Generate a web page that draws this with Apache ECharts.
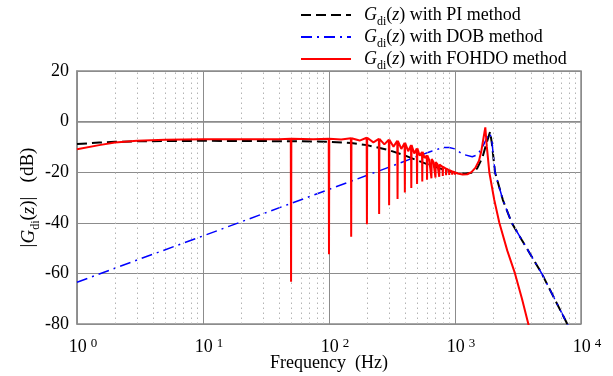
<!DOCTYPE html>
<html><head><meta charset="utf-8">
<script src="https://cdn.jsdelivr.net/npm/echarts@6/dist/echarts.min.js"></script>
<style>html,body{margin:0;padding:0;background:#fff}#c{width:613px;height:376px}</style>
</head><body><div id="c"></div>
<script>
// ---- data (frequency Hz, magnitude dB) ----
const piPoints = [[1,-8.9],[1.5,-8.3],[2,-8.0],[3,-7.8],[5,-7.7],[10,-7.6],[30,-7.7],[60,-7.8],[100,-8.0],[150,-8.5],[200,-9.3],[300,-11.3],[400,-13.4],[500,-15.3],[600,-16.8],[700,-17.9],[800,-18.9],[1000,-20.2],[1200,-20.6],[1350,-20.2],[1500,-18.5],[1650,-14.2],[1780,-8.5],[1900,-4.0],[1960,-8.5],[2077,-20],[2400,-31],[2818,-40],[3400,-46.9],[4000,-52.8],[4875,-60],[6000,-68.9],[7786,-80],[8300,-83]];
const dobPoints = [[1,-63.5],[3,-54.7],[10,-45.2],[30,-36.4],[100,-26.8],[300,-18.0],[500,-13.8],[650,-11.7],[800,-10.3],[900,-10.2],[1000,-10.8],[1150,-12.9],[1370,-13.9],[1500,-13.2],[1650,-10.2],[1800,-6.2],[1900,-4.7],[1970,-8.5],[2077,-20],[2400,-31],[2818,-40],[3400,-46.9],[4000,-52.8],[4875,-60],[6000,-68.9],[7786,-80],[8300,-83]];
const fohdoBase = [[1,-10.9],[1.5,-9.3],[2,-8.3],[3,-7.6],[5,-7.2],[10,-7.0],[20,-7.0],[40,-7.0],[75,-7.0],[125,-7.1],[175,-7.5],[225,-8.2],[275,-9.0],[325,-9.9],[375,-10.8],[425,-11.7],[475,-12.6],[525,-13.5],[575,-14.4],[625,-15.2],[675,-16.0],[725,-16.8],[775,-17.5],[825,-18.2],[875,-18.8],[925,-19.4],[975,-19.9],[1050,-20.5],[1150,-20.9],[1250,-20.8],[1350,-20.0],[1450,-18.3],[1550,-15.5],[1620,-11.5],[1690,-6.0],[1740,-2.3],[1790,-10],[1872,-20],[2050,-31],[2248,-40],[2600,-51],[2992,-60],[3400,-70],[3820,-80],[4100,-86]];
const notchFreq  = [50,100,150,200,250,300,350,400,450,500,550,600,650,700,750,800,850,900,950,1000];
const notchDepth = [-63.3,-52.4,-45.5,-40.6,-36.5,-33.1,-30.6,-28.0,-26.2,-24.7,-23.7,-23.0,-22.4,-22.1,-21.8,-21.5,-21.2,-21.1,-21.0,-21.0];
const notchPeak  = [-6.8,-6.8,-6.6,-6.4,-6.8,-7.2,-7.6,-8.4,-9.3,-10.6,-12.0,-13.4,-14.8,-16.0,-17.0,-17.9,-18.6,-19.2,-19.7,-20.1];
const minorFreqs = [2,3,4,5,6,7,8,9,20,30,40,50,60,70,80,90,200,300,400,500,600,700,800,900,2000,3000,4000,5000,6000,7000,8000,9000];
const xTickExp = {1:'0',10:'1',100:'2',1000:'3',10000:'4'};

// build FOHDO line: baseline plus narrow notches
const fohdo = fohdoBase.slice();
notchFreq.forEach((f,i)=>{
  fohdo.push([f*0.995, notchPeak[i]], [f, notchDepth[i]], [f*1.005, notchPeak[i]]);
});
fohdo.sort((a,b)=>a[0]-b[0]);

const serif = '"Liberation Serif","Times New Roman",serif';
const gridColor = '#8c8c8c';
const chart = echarts.init(document.getElementById('c'), null, {renderer:'canvas'});
const legendRich = {
  g:{fontFamily:serif,fontSize:18,fontStyle:'italic',color:'#000',lineHeight:18},
  s:{fontFamily:serif,fontSize:12,color:'#000',verticalAlign:'bottom',lineHeight:12,padding:[0,0,-4,0]},
  t:{fontFamily:serif,fontSize:18,color:'#000',lineHeight:18}
};
const names = {PI:'PI', DOB:'DOB', FOHDO:'FOHDO'};
chart.setOption({
  animation:false,
  backgroundColor:'#fff',
  grid:{left:77,right:32,top:71,bottom:52,outerBoundsMode:'none',containLabel:false,
        show:true,borderColor:gridColor,borderWidth:1.5,backgroundColor:'transparent'},
  legend:{
    orient:'vertical', left:295, top:1, itemWidth:50, itemHeight:14, itemGap:0,
    data:['PI','DOB','FOHDO'],
    itemStyle:{color:'rgba(0,0,0,0)',borderColor:'rgba(0,0,0,0)',borderWidth:0,opacity:0},
    formatter:n=>'{g|G}{s|di}{t|(}{g|z}{t|) with '+names[n]+' method}',
    textStyle:{fontFamily:serif,fontSize:18,color:'#000',padding:[0,0,0,8],rich:legendRich}
  },
  xAxis:{
    type:'log', logBase:10, min:1, max:10000, interval:1,
    name:'Frequency  (Hz)', nameLocation:'middle', nameGap:30, nameMoveOverlap:false,
    nameTextStyle:{fontFamily:serif,fontSize:18,color:'#000'},
    axisLine:{lineStyle:{color:gridColor,width:1.5}},
    axisTick:{inside:true,length:5,lineStyle:{color:gridColor}},
    splitLine:{show:true,lineStyle:{color:gridColor,width:1}},
    axisLabel:{margin:13,formatter:v=>'{b|10}{p|'+xTickExp[Math.round(v)]+'}',
      rich:{b:{fontFamily:serif,fontSize:18,color:'#000',lineHeight:20,padding:[0,0,0,12]},
            p:{fontFamily:serif,fontSize:13,color:'#000',verticalAlign:'top',lineHeight:12,padding:[0,0,0,4]}}}
  },
  yAxis:{
    type:'value', min:-80, max:20, interval:20,
    name:'|{g|G}{s|di}({g|z})|   (dB)', nameLocation:'middle', nameGap:39, nameMoveOverlap:false,
    nameTextStyle:{fontFamily:serif,fontSize:19,color:'#000',
      rich:{g:{fontFamily:serif,fontSize:19,fontStyle:'italic',color:'#000'},
            s:{fontFamily:serif,fontSize:12,color:'#000',verticalAlign:'bottom',padding:[0,0,-4,0]}}},
    axisLine:{lineStyle:{color:gridColor,width:1.5}},
    axisTick:{inside:true,length:5,lineStyle:{color:gridColor}},
    splitLine:{show:true,lineStyle:{color:gridColor,width:1}},
    axisLabel:{margin:8,fontFamily:serif,fontSize:18,color:'#000'}
  },
  series:[
    {type:'line',name:'minor',data:[],silent:true,z:1,
     markLine:{silent:true,symbol:'none',animation:false,label:{show:false},
       lineStyle:{type:[1.5,3.5],color:'#b4b4b4',width:1},
       data:minorFreqs.map(v=>({xAxis:v}))}},
    {type:'line',name:'PI',data:piPoints,symbol:'none',z:3,
     lineStyle:{color:'#000',width:2,type:[10,5]},itemStyle:{color:'#000'}},
    {type:'line',name:'DOB',data:dobPoints,symbol:'none',z:4,
     lineStyle:{color:'#0000ff',width:1.5,type:[11,5,2,5]},itemStyle:{color:'#0000ff'}},
    {type:'line',name:'FOHDO',data:fohdo,symbol:'none',z:5,
     lineStyle:{color:'#ff0000',width:2},itemStyle:{color:'#ff0000'}}
  ]
});
</script>
</body></html>
